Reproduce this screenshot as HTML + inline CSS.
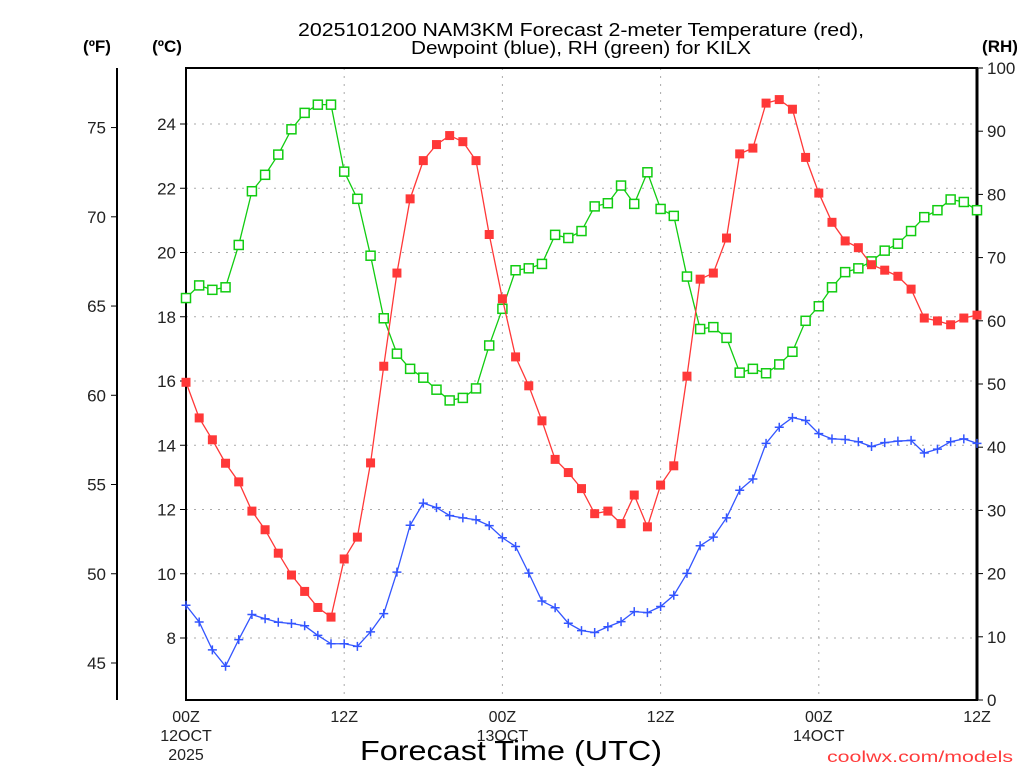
<!DOCTYPE html>
<html><head><meta charset="utf-8"><style>
html,body{margin:0;padding:0;background:#fff;}
svg{display:block;font-family:"Liberation Sans","DejaVu Sans",sans-serif;}
</style></head><body>
<svg id="chart" width="1024" height="768" viewBox="0 0 1024 768" xmlns="http://www.w3.org/2000/svg">
<g>
<text x="581" y="36" font-size="18" text-anchor="middle" textLength="566" lengthAdjust="spacingAndGlyphs" fill="#000">2025101200 NAM3KM Forecast 2-meter Temperature (red),</text>
<text x="581" y="54" font-size="18" text-anchor="middle" textLength="340" lengthAdjust="spacingAndGlyphs" fill="#000">Dewpoint (blue), RH (green) for KILX</text>
</g>
<text x="97" y="52" font-size="17" font-weight="bold" text-anchor="middle">(ºF)</text>
<text x="167" y="52" font-size="17" font-weight="bold" text-anchor="middle">(ºC)</text>
<text x="1000" y="52" font-size="17" font-weight="bold" text-anchor="middle">(RH)</text>
<g id="grid"></g>
<g id="axes"></g>
<g id="series"></g>
<text x="511" y="760" font-size="28" text-anchor="middle" textLength="302" lengthAdjust="spacingAndGlyphs">Forecast Time (UTC)</text>
<text x="920" y="762" font-size="16" fill="#ff3b3b" text-anchor="middle" textLength="186" lengthAdjust="spacingAndGlyphs">coolwx.com/models</text>
</svg>
<script>
const tempC = [15.96,14.85,14.17,13.44,12.86,11.95,11.37,10.64,9.96,9.45,8.95,8.65,10.46,11.14,13.45,16.46,19.36,21.67,22.86,23.36,23.64,23.45,22.86,20.56,18.56,16.75,15.85,14.76,13.56,13.15,12.65,11.87,11.95,11.56,12.45,11.46,12.76,13.36,16.15,19.17,19.36,20.45,23.07,23.25,24.65,24.76,24.46,22.96,21.85,20.94,20.36,20.15,19.62,19.45,19.26,18.86,17.96,17.87,17.75,17.96,18.05];
const dewC = [9.02,8.50,7.63,7.12,7.95,8.73,8.60,8.49,8.45,8.38,8.08,7.82,7.82,7.74,8.19,8.76,10.05,11.51,12.20,12.06,11.81,11.74,11.68,11.50,11.12,10.85,10.02,9.15,8.94,8.46,8.23,8.17,8.35,8.51,8.82,8.79,8.98,9.33,10.01,10.87,11.14,11.74,12.60,12.95,14.06,14.56,14.86,14.77,14.36,14.20,14.18,14.11,13.96,14.08,14.13,14.15,13.76,13.88,14.11,14.20,14.06];
const rh = [63.6,65.6,64.9,65.3,72.0,80.5,83.1,86.3,90.3,92.9,94.2,94.2,83.6,79.3,70.3,60.4,54.8,52.4,51.0,49.1,47.4,47.8,49.3,56.1,61.9,68.0,68.3,69.0,73.6,73.1,74.2,78.1,78.6,81.4,78.5,83.5,77.7,76.6,67.0,58.7,59.0,57.3,51.8,52.4,51.7,53.1,55.1,60.0,62.3,65.3,67.7,68.3,69.4,71.1,72.2,74.2,76.4,77.5,79.2,78.8,77.5];
const cTicks = [8,10,12,14,16,18,20,22,24];
const fTicks = [45,50,55,60,65,70,75];
const rhTicks = [0,10,20,30,40,50,60,70,80,90,100];
const xTickHours = [0,12,24,36,48,60];
const xTickLabels = ["00Z","12Z","00Z","12Z","00Z","12Z"];
const xDateLabels = ["12OCT","","13OCT","","14OCT",""];

const NS="http://www.w3.org/2000/svg";
const L=186,R=977,T=68,B=700;
const xs=h=>L+(R-L)*h/60;
const yC=c=>638-(c-8)*32.125;
const yF=f=>yC((f-32)*5/9);
const yRH=r=>B-(B-T)*r/100;
function mk(tag,attrs,parent){const e=document.createElementNS(NS,tag);for(const k in attrs)e.setAttribute(k,attrs[k]);parent.appendChild(e);return e;}
const grid=document.getElementById('grid'),axes=document.getElementById('axes'),ser=document.getElementById('series');

cTicks.forEach(c=>{
  const g=mk('line',{x1:L,x2:R,y1:yC(c),y2:yC(c),stroke:'#aaa','stroke-dasharray':'2 6'},grid);
  
  
  mk('line',{x1:L-6,x2:L,y1:yC(c),y2:yC(c),stroke:'#000'},axes);
  const t=mk('text',{x:L-10,y:yC(c)+6,'font-size':17,'text-anchor':'end',fill:'#222'},axes);
  t.textContent=c;
  
  
});
xTickHours.forEach((h,i)=>{
  if(h>0&&h<60){const g=mk('line',{x1:xs(h),x2:xs(h),y1:T,y2:B,stroke:'#aaa','stroke-dasharray':'2 6'},grid);
  
  }
  const t=mk('text',{x:xs(h),y:722,'font-size':16,'text-anchor':'middle',fill:'#222'},axes);
  t.textContent=xTickLabels[i];
  
  
  if(xDateLabels[i]){const d=mk('text',{x:xs(h),y:741,'font-size':16,'text-anchor':'middle',fill:'#222'},axes);
  d.textContent=xDateLabels[i];
  
  }
});
const yr=mk('text',{x:xs(0),y:760,'font-size':16,'text-anchor':'middle',fill:'#222'},axes);yr.textContent='2025';


fTicks.forEach(f=>{
  mk('line',{x1:111,x2:117,y1:yF(f),y2:yF(f),stroke:'#000'},axes);
  const t=mk('text',{x:106,y:yF(f)+6,'font-size':17,'text-anchor':'end',fill:'#222'},axes);
  t.textContent=f;
  
  
});
rhTicks.forEach(r=>{
  mk('line',{x1:R,x2:R+6,y1:yRH(r),y2:yRH(r),stroke:'#000'},axes);
  const t=mk('text',{x:R+10,y:yRH(r)+6,'font-size':17,'text-anchor':'start',fill:'#222'},axes);
  t.textContent=r;
  
  
});
const fa=mk('line',{x1:117,x2:117,y1:T,y2:B,stroke:'#000','stroke-width':2},axes);


const frame=mk('path',{d:`M${L} ${T}H${R}V${B}H${L}Z`,fill:'none',stroke:'#000','stroke-width':2},axes);


mk('line',{x1:R,x2:R,y1:T,y2:B,stroke:'#000','stroke-width':3},axes);

function series(vals,yf,color,marker,name){
  const g=mk('g',{},ser);
  
  
  mk('polyline',{points:vals.map((v,i)=>xs(i)+','+yf(v)).join(' '),fill:'none',stroke:color,'stroke-width':1.3},g);
  vals.forEach((v,i)=>{
    const x=xs(i),y=yf(v);let m;
    if(marker==='fill')m=mk('rect',{x:x-4.5,y:y-4.5,width:9,height:9,fill:color},g);
    else if(marker==='open')m=mk('rect',{x:x-4.5,y:y-4.5,width:9,height:9,fill:'#fff',stroke:color,'stroke-width':1.5},g);
    else m=mk('path',{d:`M${x-4.5} ${y}H${x+4.5}M${x} ${y-4.5}V${y+4.5}`,stroke:color,'stroke-width':1.5},g);
    
    
  });
}
series(rh,yRH,'#11cc11','open','rh-series');
series(dewC,yC,'#3355ff','plus','dewpoint-series');
series(tempC,yC,'#ff3838','fill','temperature-series');
</script>
</body></html>
